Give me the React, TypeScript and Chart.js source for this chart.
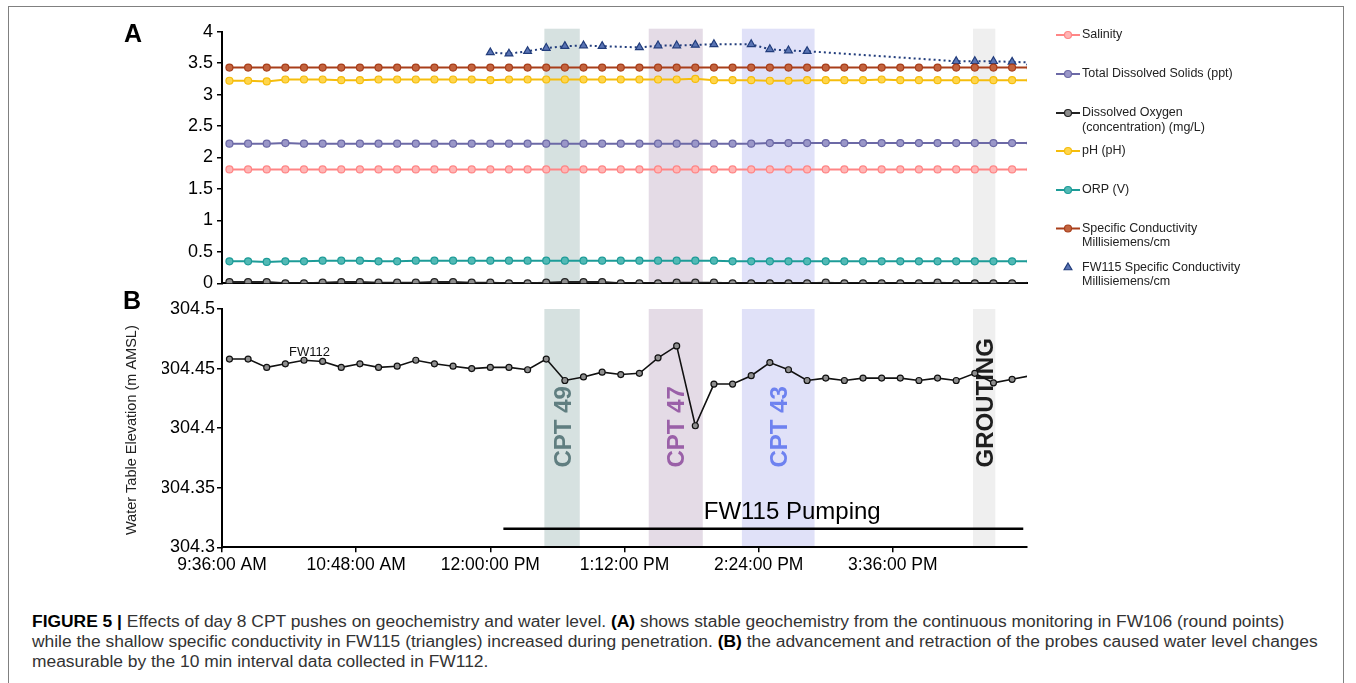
import React, { useEffect, useRef } from "react";
import { Chart, registerables } from "chart.js";

Chart.register(...registerables);

const FONT = "'Liberation Sans', Arial, Helvetica, sans-serif";

// ---------- DATA ----------
const times = ["9:40","9:50","10:00","10:10","10:20","10:30","10:40","10:50","11:00","11:10","11:20","11:30","11:40","11:50","12:00","12:10","12:20","12:30","12:40","12:50","13:00","13:10","13:20","13:30","13:40","13:50","14:00","14:10","14:20","14:30","14:40","14:50","15:00","15:10","15:20","15:30","15:40","15:50","16:00","16:10","16:20","16:30","16:40","16:50"];

const salinity = [1.81,1.81,1.81,1.81,1.81,1.81,1.81,1.81,1.81,1.81,1.81,1.81,1.81,1.81,1.81,1.81,1.81,1.81,1.81,1.81,1.81,1.81,1.81,1.81,1.81,1.81,1.81,1.81,1.81,1.81,1.81,1.81,1.81,1.81,1.81,1.81,1.81,1.81,1.81,1.81,1.81,1.81,1.81,1.81];
const tds = [2.22,2.22,2.22,2.23,2.22,2.22,2.22,2.22,2.22,2.22,2.22,2.22,2.22,2.22,2.22,2.22,2.22,2.22,2.22,2.22,2.22,2.22,2.22,2.22,2.22,2.22,2.22,2.22,2.22,2.23,2.23,2.23,2.23,2.23,2.23,2.23,2.23,2.23,2.23,2.23,2.23,2.23,2.23,2.23];
const dissolvedOxygen = [0.02,0.02,0.02,0.0,0.0,0.01,0.02,0.02,0.01,0.01,0.01,0.02,0.02,0.01,0.01,0.0,0.0,0.01,0.02,0.02,0.02,0.0,0.0,0.0,0.01,0.01,0.01,0.0,0.0,0.0,0.0,0.0,0.01,0.0,0.0,0.0,0.0,0.0,0.01,0.0,0.0,0.0,0.0,0.0];
const ph = [3.22,3.22,3.21,3.24,3.24,3.24,3.23,3.23,3.24,3.24,3.24,3.24,3.24,3.24,3.23,3.24,3.24,3.24,3.24,3.24,3.24,3.24,3.24,3.24,3.24,3.25,3.23,3.23,3.23,3.22,3.22,3.23,3.23,3.23,3.23,3.24,3.23,3.23,3.23,3.23,3.23,3.23,3.23,3.23];
const orp = [0.35,0.35,0.34,0.35,0.35,0.36,0.36,0.36,0.35,0.35,0.36,0.36,0.36,0.36,0.36,0.36,0.36,0.36,0.36,0.36,0.36,0.36,0.36,0.36,0.36,0.36,0.36,0.35,0.35,0.35,0.35,0.35,0.35,0.35,0.35,0.35,0.35,0.35,0.35,0.35,0.35,0.35,0.35,0.35];
const specCond = [3.43,3.43,3.43,3.43,3.43,3.43,3.43,3.43,3.43,3.43,3.43,3.43,3.43,3.43,3.43,3.43,3.43,3.43,3.43,3.43,3.43,3.43,3.43,3.43,3.43,3.43,3.43,3.43,3.43,3.43,3.43,3.43,3.43,3.43,3.43,3.43,3.43,3.43,3.43,3.43,3.43,3.43,3.43,3.43];
const fw115SpecCond = [null,null,null,null,null,null,null,null,null,null,null,null,null,null,3.67,3.65,3.69,3.74,3.77,3.78,3.77,null,3.75,3.78,3.78,3.79,3.80,null,3.80,3.72,3.70,3.69,null,null,null,null,null,null,null,3.53,3.53,3.53,3.52,3.51];

const fw112Level = [304.458,304.458,304.451,304.454,304.457,304.456,304.451,304.454,304.451,304.452,304.457,304.454,304.452,304.450,304.451,304.451,304.449,304.458,304.440,304.443,304.447,304.445,304.446,304.459,304.469,304.402,304.437,304.437,304.444,304.455,304.449,304.440,304.442,304.440,304.442,304.442,304.442,304.440,304.442,304.440,304.446,304.438,304.441,304.444];

const xTickTimes = ["9:36","10:48","12:00","13:12","14:24","15:36"];
const xRange = ["9:36", "16:48"];
const yTicksA = [0, 0.5, 1, 1.5, 2, 2.5, 3, 3.5, 4];
const yTicksB = [304.3, 304.35, 304.4, 304.45, 304.5];

const bandLabels = ["CPT 49", "CPT 47", "CPT 43", "GROUTING"];
const bandStarts = ["12:29", "13:25", "14:15", "16:19"];
const bandEnds = ["12:48", "13:54", "14:54", "16:31"];

const pumpingLabel = "FW115 Pumping";
const pumpingStart = "12:07";
const pumpingEnd = "16:46";
const pumpingLevel = 304.3156;
const pumpingTextAt = ["14:42", 304.3294];
const fw112TextAt = ["10:23", 304.4635];
const bandTextBaseLevel = 304.367;

const seriesNamesA = [
  ["Salinity"],
  ["Total Dissolved Solids (ppt)"],
  ["Dissolved Oxygen", "(concentration) (mg/L)"],
  ["pH (pH)"],
  ["ORP (V)"],
  ["Specific Conductivity", "Millisiemens/cm"],
  ["FW115 Specific Conductivity", "Millisiemens/cm"],
];

// ---------- STYLES ----------
const lineColors = ["#ff8585", "#6c69a6", "#222222", "#f5bd0c", "#1d9c98", "#a83e1a", "#223d7c"];
const fillColors = ["#ffb5b5", "#9a97c8", "#8d8d8d", "#ffd54c", "#52b9b5", "#c3643f", "#5a74b4"];
const bandFills = ["rgb(214,225,224)", "rgb(228,219,230)", "rgb(224,225,248)", "rgb(239,239,239)"];
const bandTextColors = ["rgb(96,126,128)", "rgb(154,96,168)", "rgb(110,130,240)", "rgb(30,30,30)"];
const legendY = [35, 74, 113, 151, 190, 228.5, 267.5];

const toMin = (t: string) => {
  const [h, m] = t.split(":").map(Number);
  return h * 60 + m;
};
const fmtTime = (m: number) => {
  const h24 = Math.floor(m / 60);
  const mm = Math.round(m % 60);
  const ap = h24 >= 12 ? "PM" : "AM";
  const h = ((h24 + 11) % 12) + 1;
  return `${h}:${String(mm).padStart(2, "0")}:00 ${ap}`;
};
const pts = (vals: (number | null)[]) => vals.map((v, i) => ({ x: toMin(times[i]), y: v }));

const bandsBackground = (extendTop: number) => ({
  id: "bandsBg",
  beforeDraw(chart: any) {
    const { ctx, chartArea, scales } = chart;
    const x = scales.x;
    ctx.save();
    bandStarts.forEach((s, i) => {
      const x1 = x.getPixelForValue(toMin(s));
      const x2 = x.getPixelForValue(toMin(bandEnds[i]));
      ctx.fillStyle = bandFills[i];
      ctx.fillRect(x1, chartArea.top - extendTop, x2 - x1, chartArea.bottom - chartArea.top + extendTop);
    });
    ctx.restore();
  },
});

const legendPlugin = {
  id: "customLegend",
  afterDraw(chart: any) {
    const { ctx } = chart;
    ctx.save();
    seriesNamesA.forEach((lines, i) => {
      const y = legendY[i];
      const isTri = i === 6;
      if (!isTri) {
        ctx.strokeStyle = lineColors[i];
        ctx.lineWidth = 2;
        ctx.beginPath();
        ctx.moveTo(1056, y);
        ctx.lineTo(1080, y);
        ctx.stroke();
        ctx.beginPath();
        ctx.arc(1068, y, 3.5, 0, Math.PI * 2);
        ctx.fillStyle = fillColors[i];
        ctx.fill();
        ctx.lineWidth = 1.2;
        ctx.stroke();
      } else {
        const r = 4.5;
        ctx.beginPath();
        ctx.moveTo(1068, y - r);
        ctx.lineTo(1068 + r * 0.866, y + r * 0.5);
        ctx.lineTo(1068 - r * 0.866, y + r * 0.5);
        ctx.closePath();
        ctx.fillStyle = fillColors[i];
        ctx.fill();
        ctx.strokeStyle = lineColors[i];
        ctx.lineWidth = 1.2;
        ctx.stroke();
      }
      ctx.fillStyle = "#222";
      ctx.font = `12.5px ${FONT}`;
      ctx.textAlign = "left";
      ctx.textBaseline = "middle";
      lines.forEach((t, j) => ctx.fillText(t, 1082, y + j * 14.5));
    });
    ctx.restore();
  },
};

const annotationsB = {
  id: "annotB",
  beforeDatasetsDraw(chart: any) {
    const { ctx, chartArea, scales } = chart;
    const x = scales.x, y = scales.y;
    ctx.save();
    // band labels
    ctx.font = `bold 24px ${FONT}`;
    ctx.textAlign = "left";
    ctx.textBaseline = "alphabetic";
    bandLabels.forEach((lab, i) => {
      const cx = (x.getPixelForValue(toMin(bandStarts[i])) + x.getPixelForValue(toMin(bandEnds[i]))) / 2;
      ctx.save();
      ctx.translate(cx + 8.6, y.getPixelForValue(bandTextBaseLevel));
      ctx.rotate(-Math.PI / 2);
      ctx.fillStyle = bandTextColors[i];
      ctx.fillText(lab, 0, 0);
      ctx.restore();
    });
    // pumping bar
    ctx.strokeStyle = "#000";
    ctx.lineWidth = 2.6;
    ctx.beginPath();
    const py = y.getPixelForValue(pumpingLevel);
    ctx.moveTo(x.getPixelForValue(toMin(pumpingStart)), py);
    ctx.lineTo(x.getPixelForValue(toMin(pumpingEnd)), py);
    ctx.stroke();
    ctx.fillStyle = "#000";
    ctx.font = `24px ${FONT}`;
    ctx.textAlign = "center";
    ctx.textBaseline = "middle";
    ctx.fillText(pumpingLabel, x.getPixelForValue(toMin(pumpingTextAt[0] as string)), y.getPixelForValue(pumpingTextAt[1] as number));
    // FW112 label
    ctx.font = `13px ${FONT}`;
    ctx.fillStyle = "#111";
    ctx.fillText("FW112", x.getPixelForValue(toMin(fw112TextAt[0] as string)), y.getPixelForValue(fw112TextAt[1] as number));
    // y-axis title
    ctx.save();
    ctx.translate(131.5, (chartArea.top + chartArea.bottom) / 2 + 2);
    ctx.rotate(-Math.PI / 2);
    ctx.font = `14.5px ${FONT}`;
    ctx.fillStyle = "#222";
    ctx.textAlign = "center";
    ctx.textBaseline = "middle";
    ctx.fillText("Water Table Elevation (m AMSL)", 0, 0);
    ctx.restore();
    ctx.restore();
  },
};

const axisCommon = {
  border: { display: true, color: "#000", width: 2 },
};

export default function App() {
  const refA = useRef<HTMLCanvasElement>(null);
  const refB = useRef<HTMLCanvasElement>(null);

  useEffect(() => {
    Chart.defaults.font.family = FONT;
    Chart.defaults.color = "#000";
    const seriesA = [salinity, tds, dissolvedOxygen, ph, orp, specCond];
    const datasetsA: any[] = seriesA.map((vals, i) => ({
      label: seriesNamesA[i].join(" "),
      data: pts(vals),
      borderColor: lineColors[i],
      backgroundColor: fillColors[i],
      pointBackgroundColor: fillColors[i],
      pointBorderColor: lineColors[i],
      pointRadius: 3.5,
      pointBorderWidth: 1.2,
      borderWidth: 2,
      clip: 0,
    }));
    datasetsA.push({
      label: seriesNamesA[6].join(" "),
      data: pts(fw115SpecCond),
      borderColor: lineColors[6],
      backgroundColor: fillColors[6],
      pointBackgroundColor: fillColors[6],
      pointBorderColor: lineColors[6],
      pointStyle: "triangle",
      pointRadius: 4.5,
      pointBorderWidth: 1.2,
      borderWidth: 2,
      borderDash: [2, 3],
      spanGaps: true,
      clip: 0,
    });

    const chartA = new Chart(refA.current!, {
      type: "line",
      data: { datasets: datasetsA },
      options: {
        animation: false,
        responsive: false,
        devicePixelRatio: 1,
        events: [],
        layout: { padding: { left: 162, right: 329, top: 31.7, bottom: 16.7 } },
        plugins: { legend: { display: false }, tooltip: { enabled: false } },
        scales: {
          x: {
            type: "linear",
            min: toMin(xRange[0]),
            max: toMin(xRange[1]),
            ticks: { display: false },
            grid: { display: false },
            ...axisCommon,
            afterFit: (s: any) => { s.height = 0; },
          },
          y: {
            min: 0,
            max: 4,
            afterBuildTicks: (s: any) => { s.ticks = yTicksA.map((v) => ({ value: v })); },
            ticks: { callback: (v: any) => String(v), font: { size: 18 }, color: "#000", padding: 4 },
            grid: { display: true, drawOnChartArea: false, drawTicks: true, tickLength: 5, color: "#000", lineWidth: 1.5 },
            ...axisCommon,
            afterFit: (s: any) => { s.width = 60; },
          },
        },
      } as any,
      plugins: [bandsBackground(3), legendPlugin],
    });

    const chartB = new Chart(refB.current!, {
      type: "line",
      data: {
        datasets: [
          {
            label: "FW112",
            data: pts(fw112Level),
            borderColor: "#111",
            backgroundColor: "#8f8f8f",
            pointBackgroundColor: "#8f8f8f",
            pointBorderColor: "#111",
            pointRadius: 3,
            pointBorderWidth: 1.2,
            borderWidth: 1.6,
            clip: 0,
          } as any,
        ],
      },
      options: {
        animation: false,
        responsive: false,
        devicePixelRatio: 1,
        events: [],
        layout: { padding: { left: 162, right: 329, top: 19, bottom: 5.7 } },
        plugins: { legend: { display: false }, tooltip: { enabled: false } },
        scales: {
          x: {
            type: "linear",
            min: toMin(xRange[0]),
            max: toMin(xRange[1]),
            afterBuildTicks: (s: any) => { s.ticks = xTickTimes.map((t) => ({ value: toMin(t) })); },
            ticks: { callback: (v: any) => fmtTime(Number(v)), font: { size: 17.5 }, color: "#000", padding: 2, maxRotation: 0, autoSkip: false },
            grid: { display: true, drawOnChartArea: false, drawTicks: true, tickLength: 5, color: "#000", lineWidth: 1.5 },
            ...axisCommon,
            afterFit: (s: any) => { s.height = 30; },
          },
          y: {
            min: 304.3,
            max: 304.5,
            afterBuildTicks: (s: any) => { s.ticks = yTicksB.map((v) => ({ value: v })); },
            ticks: { callback: (v: any) => String(Number(Number(v).toFixed(2))), font: { size: 18 }, color: "#000", padding: 2 },
            grid: { display: true, drawOnChartArea: false, drawTicks: true, tickLength: 5, color: "#000", lineWidth: 1.5 },
            ...axisCommon,
            afterFit: (s: any) => { s.width = 60; },
          },
        },
      } as any,
      plugins: [bandsBackground(0), annotationsB],
    });

    return () => {
      chartA.destroy();
      chartB.destroy();
    };
  }, []);

  return (
    <div style={{ position: "absolute", left: 0, top: 0, width: 1356, height: 683, background: "#fff", overflow: "hidden", fontFamily: FONT }}>
      <div style={{ position: "absolute", left: 8, top: 6, width: 1336, height: 720, border: "1px solid #808080", boxSizing: "border-box" }} />
      <canvas ref={refA} width={1356} height={300} style={{ position: "absolute", left: 0, top: 0 }} />
      <canvas ref={refB} width={1356} height={293} style={{ position: "absolute", left: 0, top: 290 }} />
      <div style={{ position: "absolute", left: 133, top: 33, transform: "translate(-50%,-50%)", fontSize: 25, fontWeight: "bold", lineHeight: 1 }}>A</div>
      <div style={{ position: "absolute", left: 132, top: 300, transform: "translate(-50%,-50%)", fontSize: 25, fontWeight: "bold", lineHeight: 1 }}>B</div>
      <div style={{ position: "absolute", left: 32, top: 612, fontSize: 16, lineHeight: "20px", color: "#333", whiteSpace: "nowrap", transform: "scaleX(1.088)", transformOrigin: "0 0" }}>
        <b style={{ color: "#000" }}>FIGURE 5 |</b> Effects of day 8 CPT pushes on geochemistry and water level. <b style={{ color: "#000" }}>(A)</b> shows stable geochemistry from the continuous monitoring in FW106 (round points)
        <br />
        while the shallow specific conductivity in FW115 (triangles) increased during penetration. <b style={{ color: "#000" }}>(B)</b> the advancement and retraction of the probes caused water level changes
        <br />
        measurable by the 10 min interval data collected in FW112.
      </div>
    </div>
  );
}
